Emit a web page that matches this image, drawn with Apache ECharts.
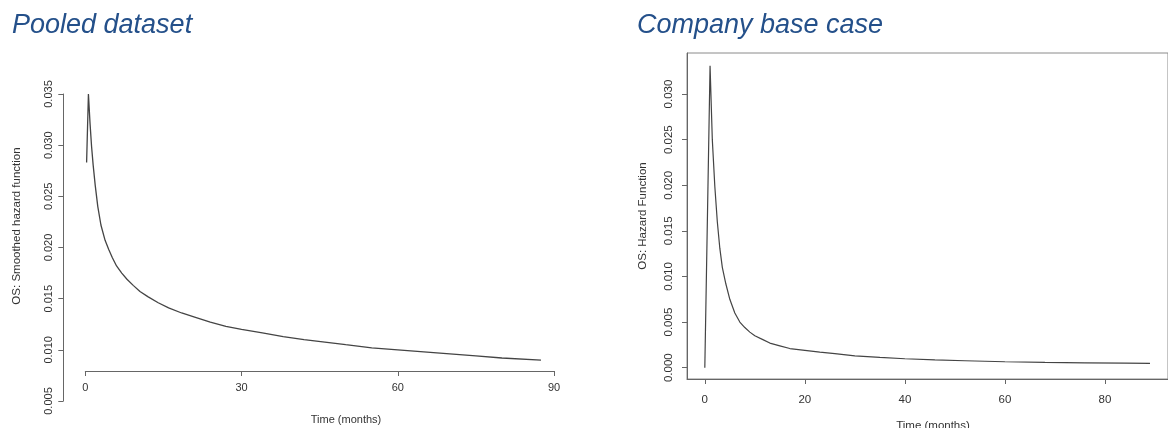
<!DOCTYPE html>
<html>
<head>
<meta charset="utf-8">
<title>Hazard functions</title>
<script src="https://cdn.jsdelivr.net/npm/echarts@6/dist/echarts.min.js"></script>
<style>
  html, body { margin: 0; padding: 0; background: #ffffff; }
  #chart { width: 1168px; height: 428px; }
</style>
</head>
<body>
<div id="chart"></div>
<script>
// Pooled dataset: smoothed OS hazard over time (months)
const pooledTime = [0.25, 0.6, 0.9, 1.2, 1.5, 1.9, 2.4, 3.0, 3.8, 4.5, 5.2, 6.0, 7.0, 8.0, 9.2, 10.5, 12, 14, 16, 18.5, 21, 24, 27, 30, 34, 38, 42, 46, 50, 55, 60, 65, 70, 75, 80, 87.5];
const pooledHazard = [0.0283, 0.0350, 0.0322, 0.0299, 0.0281, 0.0261, 0.0240, 0.0222, 0.0207, 0.0198, 0.0190, 0.0182, 0.0175, 0.0169, 0.0163, 0.0157, 0.0152, 0.0146, 0.0141, 0.0136, 0.0132, 0.0127, 0.0123, 0.0120, 0.01165, 0.0113, 0.0110, 0.01075, 0.0105, 0.0102, 0.0100, 0.0098, 0.0096, 0.0094, 0.0092, 0.0090];

// Company base case: OS hazard function over time (months)
const baseTime = [0, 1.05, 1.5, 2.0, 2.5, 3.0, 3.5, 4.2, 5.0, 6.0, 7.0, 8.0, 9.0, 10, 11.5, 13, 15, 17, 20, 23, 26, 30, 35, 40, 46, 52, 60, 68, 76, 84, 89];
const baseHazard = [0, 0.0331, 0.0250, 0.0199, 0.0160, 0.0131, 0.0110, 0.0092, 0.0075, 0.0060, 0.0050, 0.0044, 0.0039, 0.0035, 0.0031, 0.0027, 0.0024, 0.0021, 0.0019, 0.0017, 0.00155, 0.0013, 0.00113, 0.00098, 0.00085, 0.00076, 0.00065, 0.00058, 0.00053, 0.0005, 0.00048];

// Tick positions
const pooledXTicks = [0, 30, 60, 90];
const pooledYTicks = [0.005, 0.010, 0.015, 0.020, 0.025, 0.030, 0.035];
const baseXTicks = [0, 20, 40, 60, 80];
const baseYTicks = [0.000, 0.005, 0.010, 0.015, 0.020, 0.025, 0.030];

// Text
const pooledTitle = 'Pooled dataset';
const baseTitle = 'Company base case';
const pooledYName = 'OS: Smoothed hazard function';
const baseYName = 'OS: Hazard Function';
const xName = 'Time (months)';

const toPairs = (xs, ys) => xs.map((x, i) => [x, ys[i]]);

const FONT = '"Liberation Sans", Arial, sans-serif';
const AXIS_COLOR = '#666666';
const LABEL_COLOR = '#333333';
const LINE_COLOR = '#444444';
const TITLE_COLOR = '#24508a';

const chart = echarts.init(document.getElementById('chart'), null, { renderer: 'canvas' });

const axisLineStyle = { show: true, onZero: false, lineStyle: { color: AXIS_COLOR, width: 1 } };
const tickStyle = (vals, len) => ({ show: true, customValues: vals, length: len, lineStyle: { color: AXIS_COLOR, width: 1 } });

chart.setOption({
  animation: false,
  backgroundColor: '#ffffff',
  grid: [
    { left: 85.3, top: 94, width: 468.7, height: 307, show: false },
    { left: 687, top: 53, width: 491, height: 326, show: true, borderColor: '#8a8a8a', borderWidth: 1, backgroundColor: 'transparent' }
  ],
  xAxis: [
    {
      gridIndex: 0, type: 'value', min: 0, max: 90, offset: -30,
      axisLine: axisLineStyle,
      axisTick: tickStyle(pooledXTicks, 5),
      axisLabel: { customValues: pooledXTicks, margin: 11, color: LABEL_COLOR, fontSize: 11, fontFamily: FONT },
      splitLine: { show: false }
    },
    {
      gridIndex: 1, type: 'value', min: -3.56, max: 92.6,
      axisLine: axisLineStyle,
      axisTick: tickStyle(baseXTicks, 5),
      axisLabel: { customValues: baseXTicks, margin: 15, color: LABEL_COLOR, fontSize: 11.5, fontFamily: FONT },
      splitLine: { show: false }
    }
  ],
  yAxis: [
    {
      gridIndex: 0, type: 'value', min: 0.005, max: 0.035, offset: 22,
      axisLine: axisLineStyle,
      axisTick: tickStyle(pooledYTicks, 5),
      axisLabel: {
        customValues: pooledYTicks, rotate: 90, margin: 9, color: LABEL_COLOR,
        fontSize: 11, fontFamily: FONT, formatter: v => Number(v).toFixed(3)
      },
      splitLine: { show: false }
    },
    {
      gridIndex: 1, type: 'value', min: -0.00124, max: 0.0345,
      axisLine: axisLineStyle,
      axisTick: tickStyle(baseYTicks, 5),
      axisLabel: {
        customValues: baseYTicks, rotate: 90, margin: 12, color: LABEL_COLOR,
        fontSize: 11.5, fontFamily: FONT, formatter: v => Number(v).toFixed(3)
      },
      splitLine: { show: false }
    }
  ],
  series: [
    {
      type: 'line', xAxisIndex: 0, yAxisIndex: 0, clip: false,
      data: toPairs(pooledTime, pooledHazard),
      showSymbol: false, smooth: false,
      lineStyle: { color: LINE_COLOR, width: 1.3 }
    },
    {
      type: 'line', xAxisIndex: 1, yAxisIndex: 1, clip: false,
      data: toPairs(baseTime, baseHazard),
      showSymbol: false, smooth: false,
      lineStyle: { color: LINE_COLOR, width: 1.2 }
    }
  ],
  graphic: [
    { type: 'text', left: 12, top: 12, style: { text: pooledTitle, fill: TITLE_COLOR, font: 'italic 27px ' + FONT } },
    { type: 'text', left: 637, top: 12, style: { text: baseTitle, fill: TITLE_COLOR, font: 'italic 27px ' + FONT } },
    { type: 'text', x: 17, y: 226, rotation: Math.PI / 2,
      style: { text: pooledYName, fill: LABEL_COLOR, font: '11.5px ' + FONT, align: 'center', verticalAlign: 'middle' } },
    { type: 'text', x: 643, y: 216, rotation: Math.PI / 2,
      style: { text: baseYName, fill: LABEL_COLOR, font: '11.5px ' + FONT, align: 'center', verticalAlign: 'middle' } },
    { type: 'text', x: 346, y: 420,
      style: { text: xName, fill: LABEL_COLOR, font: '11px ' + FONT, align: 'center', verticalAlign: 'middle' } },
    { type: 'text', x: 933, y: 426,
      style: { text: xName, fill: LABEL_COLOR, font: '11.5px ' + FONT, align: 'center', verticalAlign: 'middle' } }
  ]
});
</script>
</body>
</html>
